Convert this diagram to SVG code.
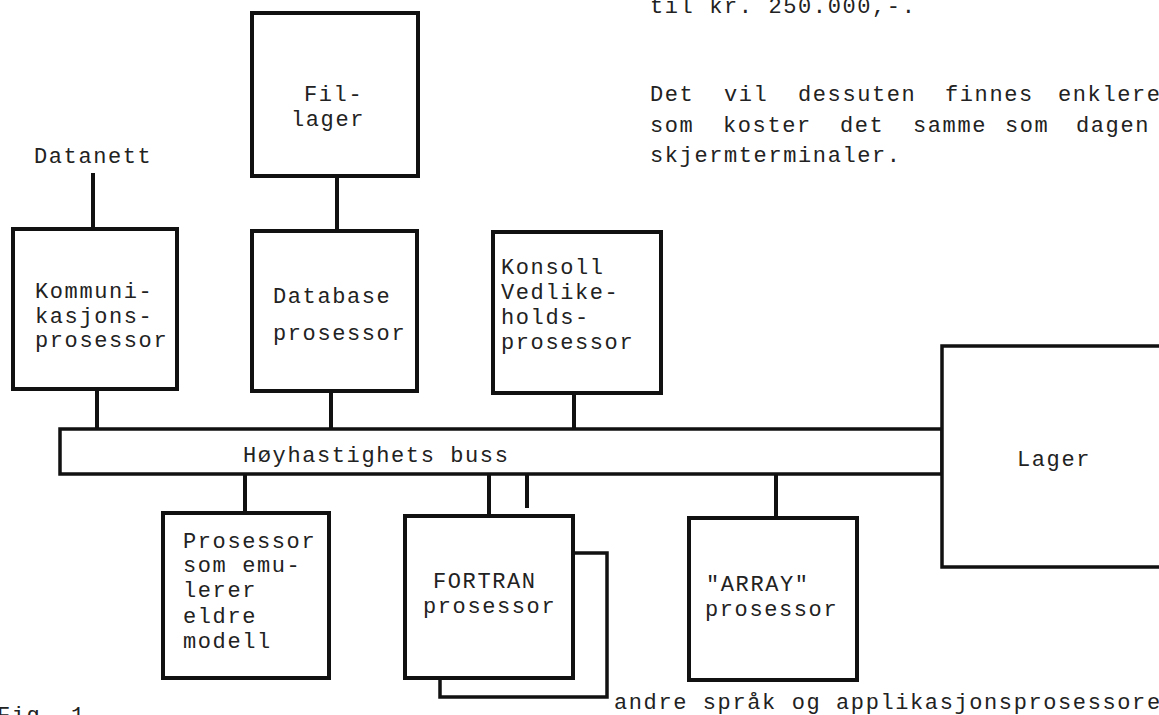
<svg xmlns="http://www.w3.org/2000/svg" width="1159" height="715" viewBox="0 0 1159 715">
<style>
  .box { fill: #fff; stroke: #111; stroke-width: 4; }
  .thin { fill: #fff; stroke: #111; stroke-width: 3.5; }
  .line { fill: none; stroke: #111; stroke-width: 4; }
  text { font-family: "Liberation Mono", "DejaVu Sans Mono", monospace; font-size: 22px; letter-spacing: 1.6px; fill: #222; }
</style>
<rect width="1159" height="715" fill="#fff"/>

<g id="body-text">
  <text x="650" y="13">til kr. 250.000,-.</text>
  <text y="101"><tspan x="650">Det</tspan><tspan x="724">vil</tspan><tspan x="798">dessuten</tspan><tspan x="945">finnes</tspan><tspan x="1058">enklere</tspan></text>
  <text y="132"><tspan x="650">som</tspan><tspan x="723">koster</tspan><tspan x="840">det</tspan><tspan x="913">samme</tspan><tspan x="1005">som</tspan><tspan x="1076">dagen</tspan></text>
  <text x="650" y="162">skjermterminaler.</text>
  <text x="-3" y="722">Fig. 1</text>
</g>

<g id="connectors">
  <path class="line" d="M93 173 V229"/>
  <path class="line" d="M337 176 V231"/>
  <path class="line" d="M97 389 V429"/>
  <path class="line" d="M331 391 V429"/>
  <path class="line" d="M574 393 V429"/>
  <path class="line" d="M245 474 V513"/>
  <path class="line" d="M489 474 V516"/>
  <path class="line" d="M527 474 V508"/>
  <path class="line" d="M776 474 V518"/>
</g>

<g id="datanett">
  <text x="34" y="163">Datanett</text>
</g>

<g id="fillager">
  <rect class="box" x="252" y="13" width="166" height="163"/>
  <text x="304" y="101">Fil-</text>
  <text x="291" y="126">lager</text>
</g>

<g id="kommunikasjonsprosessor">
  <rect class="box" x="13" y="229" width="164" height="160"/>
  <text x="35" y="298">Kommuni-</text>
  <text x="35" y="323">kasjons-</text>
  <text x="35" y="347">prosessor</text>
</g>

<g id="databaseprosessor">
  <rect class="box" x="252" y="231" width="165" height="160"/>
  <text x="273" y="303">Database</text>
  <text x="273" y="340">prosessor</text>
</g>

<g id="konsollprosessor">
  <rect class="box" x="493" y="232" width="168" height="161"/>
  <text x="501" y="274">Konsoll</text>
  <text x="501" y="299">Vedlike-</text>
  <text x="501" y="324">holds-</text>
  <text x="501" y="349">prosessor</text>
</g>

<g id="buss">
  <rect class="thin" x="60" y="429" width="882" height="45"/>
  <text x="243" y="462">Høyhastighets buss</text>
</g>

<g id="lager">
  <rect class="thin" x="942" y="346" width="240" height="221"/>
  <text x="1017" y="466">Lager</text>
</g>

<g id="emulator">
  <rect class="box" x="163" y="513" width="166" height="165"/>
  <text x="183" y="548">Prosessor</text>
  <text x="183" y="572">som emu-</text>
  <text x="183" y="597">lerer</text>
  <text x="183" y="623">eldre</text>
  <text x="183" y="648">modell</text>
</g>

<g id="andre-prosessorer">
  <path class="thin" d="M573 553 H607 V697 H440 V678" style="fill:none"/>
  <text x="614" y="709">andre språk og applikasjonsprosessorer</text>
</g>

<g id="fortran">
  <rect class="box" x="405" y="516" width="168" height="162"/>
  <text x="433" y="588">FORTRAN</text>
  <text x="423" y="613">prosessor</text>
</g>

<g id="array">
  <rect class="box" x="689" y="518" width="168" height="162"/>
  <text x="706" y="591">"ARRAY"</text>
  <text x="705" y="616">prosessor</text>
</g>
</svg>
